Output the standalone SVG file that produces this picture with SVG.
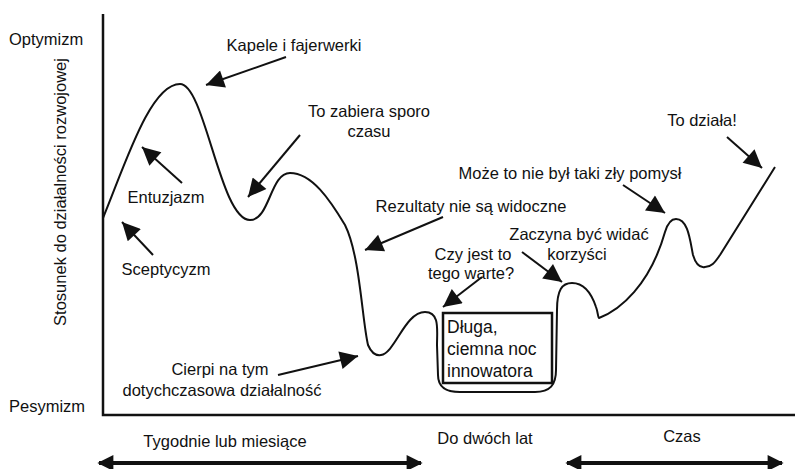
<svg xmlns="http://www.w3.org/2000/svg" width="795" height="469" viewBox="0 0 795 469">
<defs>
<style>
text{font-family:"Liberation Sans",Arial,sans-serif;font-size:16.5px;fill:#111}
.bx{font-size:17.5px}
.ax{stroke:#111;stroke-width:2.5;fill:none}
.curve{stroke:#111;stroke-width:2;fill:none;stroke-linejoin:round}
.arr{stroke:#111;stroke-width:2;fill:none;marker-end:url(#ah)}
.dbl{stroke:#111;stroke-width:4;fill:none;marker-start:url(#dh);marker-end:url(#dh)}
</style>
<marker id="ah" viewBox="0 0 10 10" refX="10" refY="5" markerWidth="26" markerHeight="18" markerUnits="userSpaceOnUse" orient="auto"><path d="M0,0 L10,5 L0,10 z" fill="#111"/></marker>
<marker id="dh" viewBox="0 0 10 10" refX="9" refY="5" markerWidth="26" markerHeight="16" markerUnits="userSpaceOnUse" orient="auto-start-reverse"><path d="M0,0 L10,5 L0,10 z" fill="#111"/></marker>
</defs>
<rect width="795" height="469" fill="#fff"/>
<g id="axes">
<path class="ax" d="M103,14 L103,415 L795,415"/>
<text x="9" y="45">Optymizm</text>
<text x="9" y="412">Pesymizm</text>
<text transform="translate(66,192) rotate(-90)" text-anchor="middle">Stosunek do działalności rozwojowej</text>
</g>
<g id="curve">
<path class="curve" d="M103,218 C125,165 150,84 180,84 C205,84 220,220 250,220 C270,220 270,173 290,173 C312,173 330,200 345,225 C360,255 362,320 368,345 C371,352 375,356 381,355 C395,353 405,312 425,312 C440,312 437,330 437,345 L438,375 C438,390 450,392 460,392 L535,392 C550,392 556,385 556,370 L557,310 C557,290 562,283 572,283 C585,283 592,295 596,307 C598,312 598,318 599,318 C620,310 650,285 665,232 C668,222 672,219 676,219 C688,219 690,240 693,255 C696,265 700,268 705,267 C712,267 715,262 720,255 L775,167"/>
</g>
<g id="box">
<rect x="443" y="313" width="109" height="70" fill="none" stroke="#111" stroke-width="2.5"/>
<text class="bx" x="447" y="333">Długa,</text>
<text class="bx" x="447" y="355">ciemna noc</text>
<text class="bx" x="447" y="377">innowatora</text>
</g>
<g id="labels">
<text x="294" y="51" text-anchor="middle">Kapele i fajerwerki</text>
<text x="369" y="117" text-anchor="middle">To zabiera sporo</text>
<text x="369" y="137" text-anchor="middle">czasu</text>
<text x="166" y="203" text-anchor="middle">Entuzjazm</text>
<text x="166" y="275" text-anchor="middle">Sceptycyzm</text>
<text x="471" y="212" text-anchor="middle">Rezultaty nie są widoczne</text>
<text x="570" y="179" text-anchor="middle">Może to nie był taki zły pomysł</text>
<text x="702" y="126" text-anchor="middle">To działa!</text>
<text x="579" y="240" text-anchor="middle">Zaczyna być widać</text>
<text x="577" y="260" text-anchor="middle">korzyści</text>
<text x="473" y="260" text-anchor="middle">Czy jest to</text>
<text x="471" y="279" text-anchor="middle">tego warte?</text>
<text x="220" y="375" text-anchor="middle">Cierpi na tym</text>
<text x="222" y="396" text-anchor="middle">dotychczasowa działalność</text>
<text x="225" y="447" text-anchor="middle">Tygodnie lub miesiące</text>
<text x="485" y="444" text-anchor="middle">Do dwóch lat</text>
<text x="682" y="442" text-anchor="middle">Czas</text>
</g>
<g id="connectors">
<line class="arr" x1="286" y1="57" x2="206" y2="85"/>
<line class="arr" x1="300" y1="135" x2="248" y2="197"/>
<line class="arr" x1="182" y1="183" x2="142" y2="147"/>
<line class="arr" x1="153" y1="255" x2="122" y2="222"/>
<line class="arr" x1="443" y1="217" x2="365" y2="250"/>
<line class="arr" x1="623" y1="185" x2="665" y2="213"/>
<line class="arr" x1="727" y1="137" x2="762" y2="168"/>
<line class="arr" x1="522" y1="252" x2="562" y2="282"/>
<line class="arr" x1="482" y1="277" x2="443" y2="307"/>
<line class="arr" x1="278" y1="375" x2="358" y2="356"/>
<line class="dbl" x1="99" y1="463" x2="421" y2="463"/>
<line class="dbl" x1="567" y1="463" x2="782" y2="463"/>
</g>
</svg>
